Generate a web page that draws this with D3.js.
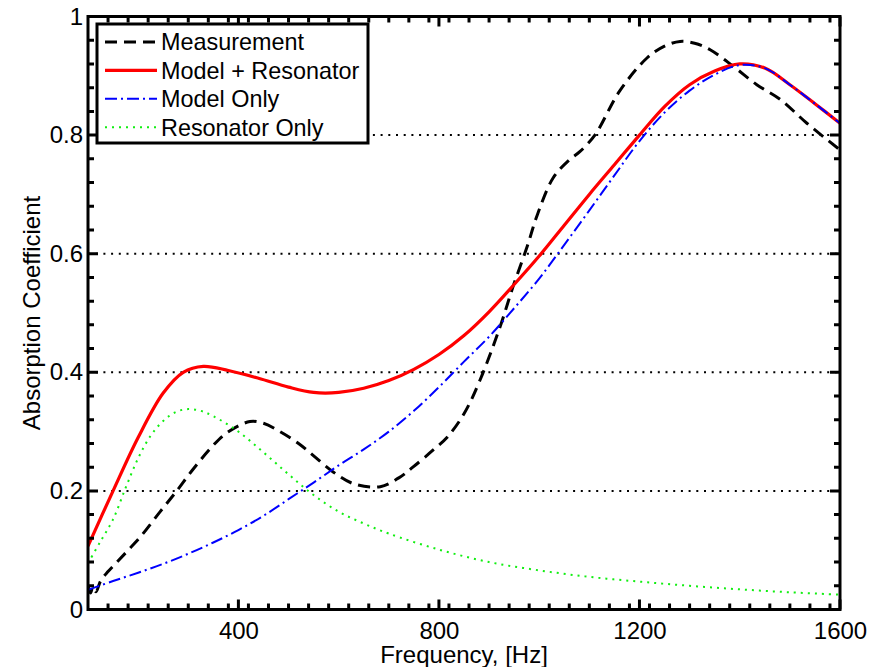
<!DOCTYPE html>
<html>
<head>
<meta charset="utf-8">
<script src="https://cdn.jsdelivr.net/npm/d3@7"></script>
<style>
    body {margin: 0; background: #fff;}
    #chart text {font-family: "Liberation Sans", Arial, sans-serif; fill: #000;}
    .domain {display: none;}
</style>
</head>
<body>
<div id="chart"></div>
<script>

    // measured curve
    let measFreq = [100, 105, 110, 116, 125, 140, 158, 180, 204, 244, 277, 310, 350, 377, 423, 450, 483, 520, 549, 589, 630, 683,
        720, 748, 790, 816, 850, 882, 922, 948, 976, 996, 1028, 1060, 1081, 1111, 1161, 1215, 1250, 1281, 1310, 1341, 1387, 1434, 1481, 1534, 1600];
    let measValue = [0.04, 0.028, 0.038, 0.03, 0.048, 0.064, 0.08, 0.10, 0.122, 0.165, 0.20, 0.237, 0.277, 0.298, 0.317, 0.314, 0.30, 0.28, 0.26, 0.232, 0.212, 0.207,
        0.222, 0.24, 0.27, 0.29, 0.33, 0.387, 0.477, 0.545, 0.612, 0.665, 0.728, 0.758, 0.772, 0.80, 0.875, 0.93, 0.95, 0.958, 0.955, 0.944, 0.916, 0.885, 0.86, 0.82, 0.775];

    // model + resonator
    let fullFreq = [100, 150, 200, 250, 290, 330, 380, 440, 500, 550, 600, 650, 700, 750, 800, 850, 900, 950, 1000, 1050, 1100,
        1150, 1200, 1250, 1300, 1350, 1400, 1450, 1500, 1550, 1600];
    let fullValue = [0.107, 0.20, 0.29, 0.365, 0.40, 0.41, 0.403, 0.39, 0.375, 0.366, 0.366, 0.373, 0.386, 0.405, 0.43, 0.462, 0.502, 0.548, 0.596, 0.648, 0.70,
        0.75, 0.80, 0.848, 0.885, 0.908, 0.92, 0.913, 0.885, 0.853, 0.82];

    // model only
    let modelFreq = [100, 150, 200, 250, 300, 350, 400, 450, 500, 550, 600, 650, 700, 750, 800, 850, 900, 950, 1000, 1050, 1100,
        1150, 1200, 1250, 1300, 1350, 1400, 1450, 1500, 1550, 1600];
    let modelValue = [0.033, 0.048, 0.062, 0.077, 0.094, 0.113, 0.134, 0.158, 0.186, 0.214, 0.243, 0.27, 0.30, 0.335, 0.375, 0.418, 0.46, 0.508, 0.558, 0.615, 0.673,
        0.732, 0.79, 0.838, 0.875, 0.902, 0.918, 0.913, 0.885, 0.853, 0.82];

    // resonator only
    let resFreq = [100, 125, 150, 175, 200, 225, 250, 275, 300, 325, 350, 400, 450, 500, 550, 600, 650, 700, 800, 900, 1000, 1100, 1200, 1300, 1400, 1500, 1600];
    let resValue = [0.078, 0.115, 0.152, 0.205, 0.255, 0.293, 0.318, 0.333, 0.338, 0.335, 0.326, 0.30, 0.265, 0.228, 0.193, 0.165, 0.145, 0.128, 0.101, 0.08, 0.066, 0.055, 0.047, 0.04, 0.034, 0.029, 0.025];

    let xTicks = [400, 800, 1200, 1600];
    let yTicks = [0, 0.2, 0.4, 0.6, 0.8, 1];
    let yTickLabels = ["0", "0.2", "0.4", "0.6", "0.8", "1"];
    let gridValues = [0.2, 0.4, 0.6, 0.8];
    let legendNames = ["Measurement", "Model + Resonator", "Model Only", "Resonator Only"];

    let width = 873, height = 667;
    let plotLeft = 88, plotRight = 840, plotTop = 16.5, plotBottom = 609.5;

    let x = d3.scaleLinear().domain([100, 1600]).range([plotLeft, plotRight]);
    let y = d3.scaleLinear().domain([0, 1]).range([plotBottom, plotTop]);

    let svg = d3.select("#chart").append("svg")
        .attr("width", width)
        .attr("height", height);

    svg.append("rect").attr("width", width).attr("height", height).attr("fill", "#fff");

    svg.append("clipPath").attr("id", "plot-clip")
        .append("rect")
        .attr("x", plotLeft).attr("y", plotTop)
        .attr("width", plotRight - plotLeft).attr("height", plotBottom - plotTop);

    // dotted grid
    svg.selectAll(".grid")
        .data(gridValues)
        .enter().append("line")
        .attr("class", "grid")
        .attr("x1", plotLeft).attr("x2", plotRight)
        .attr("y1", d => y(d)).attr("y2", d => y(d))
        .attr("stroke", "#000")
        .attr("stroke-width", 2)
        .attr("stroke-dasharray", "2,5.7");

    let minorX = d3.range(140, 1600, 40).filter(d => d % 400 !== 0);
    let minorY = d3.range(0.04, 1, 0.04).filter(d => Math.abs(d * 5 - Math.round(d * 5)) > 0.01);

    // inward ticks on all four sides, drawn as one path
    let xTickData = xTicks.map(d => ({v: d, len: 10})).concat(minorX.map(d => ({v: d, len: 6})));
    let yTickData = yTicks.map(d => ({v: d, len: 10})).concat(minorY.map(d => ({v: d, len: 6})));
    let tickPath = d3.path();
    xTickData.forEach(d => {
        tickPath.moveTo(x(d.v), plotBottom); tickPath.lineTo(x(d.v), plotBottom - d.len);
        tickPath.moveTo(x(d.v), plotTop); tickPath.lineTo(x(d.v), plotTop + d.len);
    });
    yTickData.forEach(d => {
        tickPath.moveTo(plotLeft, y(d.v)); tickPath.lineTo(plotLeft + d.len, y(d.v));
        tickPath.moveTo(plotRight, y(d.v)); tickPath.lineTo(plotRight - d.len, y(d.v));
    });

    let series = [
        {name: legendNames[0], f: measFreq, v: measValue, color: "#000", w: 3, dash: "12,7"},
        {name: legendNames[1], f: fullFreq, v: fullValue, color: "#ff0000", w: 3.2, dash: null},
        {name: legendNames[2], f: modelFreq, v: modelValue, color: "#0000ff", w: 2, dash: "12,4,2,4"},
        {name: legendNames[3], f: resFreq, v: resValue, color: "#11ee11", w: 2, dash: "2,5"}
    ];

    let line = d3.line()
        .x(d => x(d[0]))
        .y(d => y(d[1]))
        .curve(d3.curveCatmullRom.alpha(0.5));

    svg.append("g").attr("clip-path", "url(#plot-clip)")
        .selectAll("path")
        .data(series)
        .enter().append("path")
        .attr("d", s => line(s.f.map((f, i) => [f, s.v[i]])))
        .attr("fill", "none")
        .attr("stroke", s => s.color)
        .attr("stroke-width", s => s.w)
        .attr("stroke-dasharray", s => s.dash);

    // frame
    svg.append("rect")
        .attr("x", plotLeft).attr("y", plotTop)
        .attr("width", plotRight - plotLeft).attr("height", plotBottom - plotTop)
        .attr("fill", "none")
        .attr("stroke", "#000")
        .attr("stroke-width", 3);

    svg.append("path")
        .attr("d", tickPath.toString())
        .attr("fill", "none")
        .attr("stroke", "#000")
        .attr("stroke-width", 3);

    // tick labels
    svg.append("g")
        .attr("transform", "translate(0," + plotBottom + ")")
        .call(d3.axisBottom(x).tickValues(xTicks).tickSize(0).tickPadding(12).tickFormat(d3.format("d")))
        .call(g => g.selectAll("line").remove())
        .selectAll("text").style("font-size", "24px");
    svg.append("g")
        .attr("transform", "translate(" + plotLeft + ",0)")
        .call(d3.axisLeft(y).tickValues(yTicks).tickSize(0).tickPadding(5).tickFormat((d, i) => yTickLabels[i]))
        .call(g => g.selectAll("line").remove())
        .selectAll("text").style("font-size", "24px");

    // legend
    let legend = svg.append("g");
    legend.append("rect")
        .attr("x", 97).attr("y", 24)
        .attr("width", 271).attr("height", 119)
        .attr("fill", "#fff")
        .attr("stroke", "#000")
        .attr("stroke-width", 3);

    let rows = legend.selectAll(".row")
        .data(series)
        .enter().append("g")
        .attr("class", "row")
        .attr("transform", (d, i) => "translate(0," + (42 + i * 28.4) + ")");
    rows.append("line")
        .attr("x1", 105).attr("x2", 157)
        .attr("stroke", s => s.color)
        .attr("stroke-width", s => s.w)
        .attr("stroke-dasharray", s => s.dash);
    rows.append("text")
        .attr("x", 161)
        .attr("dy", "0.36em")
        .style("font-size", "23.4px")
        .text(s => s.name);

    svg.append("text")
        .attr("x", (plotLeft + plotRight) / 2)
        .attr("y", 663)
        .attr("text-anchor", "middle")
        .style("font-size", "24px")
        .text("Frequency, [Hz]");

    svg.append("text")
        .attr("transform", "translate(40," + ((plotTop + plotBottom) / 2) + ") rotate(-90)")
        .attr("text-anchor", "middle")
        .style("font-size", "24px")
        .text("Absorption Coefficient");

</script>
</body>
</html>
